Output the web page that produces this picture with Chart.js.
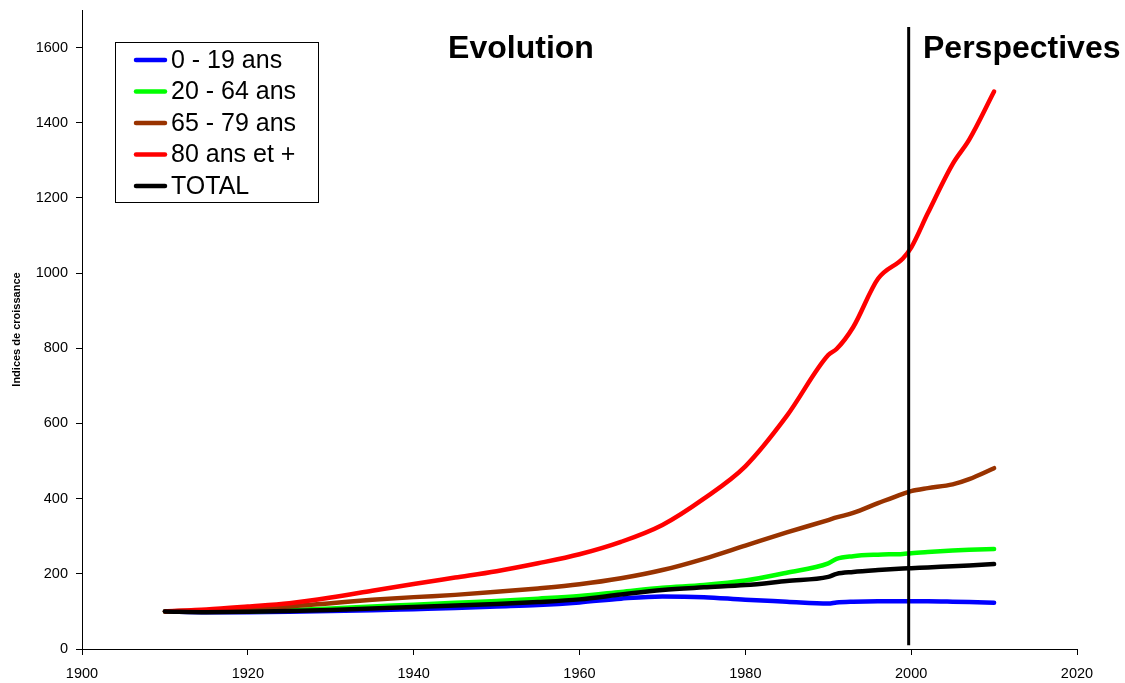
<!DOCTYPE html>
<html>
<head>
<meta charset="utf-8">
<script src="https://cdn.jsdelivr.net/npm/chart.js@4.4.1/dist/chart.umd.min.js"></script>
<style>
    html, body { margin: 0; padding: 0; background: #fff; }
    #wrap { width: 1125px; height: 683px; position: relative; }
</style>
</head>
<body>
<div id="wrap"><canvas id="chart"></canvas></div>
<script>
// Data
const years = [1910, 1915, 1920, 1925, 1930, 1935, 1940, 1945, 1950, 1955, 1960, 1965, 1970, 1975,
    1980, 1985, 1990, 1991, 1993, 1996, 1999, 2000, 2002, 2005, 2007, 2010];

const age0to19 = [100, 98, 98, 99, 101, 103, 106, 109, 113, 117, 124, 134, 140, 138,
    131, 126, 121, 124, 126, 127, 127, 127, 127, 126, 125, 123];
const age20to64 = [100, 99, 100, 103, 108, 113, 118, 123, 128, 134, 141, 152, 163, 170,
    182, 203, 228, 240, 247, 251, 253, 255, 258, 262, 264, 266];
const age65to79 = [100, 103, 107, 113, 122, 131, 138, 144, 152, 161, 172, 188, 210, 240,
    275, 310, 343, 350, 362, 388, 413, 420, 428, 438, 452, 481];
const age80plus = [100, 105, 113, 122, 137, 155, 173, 190, 207, 228, 252, 285, 330, 400,
    486, 620, 782, 798, 856, 985, 1039, 1068, 1159, 1290, 1355, 1483];
const total = [100, 98, 99, 101, 104, 108, 112, 116, 120, 125, 132, 145, 157, 164,
    170, 181, 192, 200, 205, 210, 214, 215, 217, 220, 222, 226];

const seriesLabels = ['0 - 19 ans', '20 - 64 ans', '65 - 79 ans', '80 ans et +', 'TOTAL'];
const seriesColors = ['#0000ff', '#00ff00', '#993300', '#ff0000', '#000000'];
const seriesValues = [age0to19, age20to64, age65to79, age80plus, total];

const xTicks = [1900, 1920, 1940, 1960, 1980, 2000, 2020];
const yTicks = [0, 200, 400, 600, 800, 1000, 1200, 1400, 1600];

// Divider between history and projection
const dividerYear = 1999.7;
const dividerRange = [10, 1655];

function toPoints(values) {
    return values.map((v, i) => ({ x: years[i], y: v }));
}

const datasets = seriesValues.map((values, i) => ({
    label: seriesLabels[i],
    data: toPoints(values),
    borderColor: seriesColors[i],
    backgroundColor: seriesColors[i],
    borderWidth: 4.5,
    borderCapStyle: 'round',
    borderJoinStyle: 'round',
    pointRadius: 0,
    cubicInterpolationMode: 'monotone',
    order: 6 - i
}));

datasets.push({
    label: 'divider',
    data: dividerRange.map(v => ({ x: dividerYear, y: v })),
    borderColor: '#000000',
    borderWidth: 3,
    pointRadius: 0,
    order: 0
});

const tickFont = { family: '"Liberation Sans", Arial, sans-serif', size: 14.5 };

// Section titles and boxed legend drawn on the canvas
const overlayPlugin = {
    id: 'overlay',
    afterDraw(chart) {
        const ctx = chart.ctx;
        ctx.save();
        ctx.fillStyle = '#000';
        ctx.font = 'bold 32px "Liberation Sans", Arial, sans-serif';
        ctx.textBaseline = 'middle';
        ctx.textAlign = 'center';
        ctx.fillText('Evolution', 521, 49);
        ctx.textAlign = 'left';
        ctx.fillText('Perspectives', 923, 49);

        // legend
        const box = { x: 115, y: 42, w: 203, h: 160 };
        ctx.fillStyle = '#fff';
        ctx.fillRect(box.x, box.y, box.w, box.h);
        ctx.strokeStyle = '#000';
        ctx.lineWidth = 1;
        ctx.strokeRect(box.x + 0.5, box.y + 0.5, box.w, box.h);

        ctx.font = '25px "Liberation Sans", Arial, sans-serif';
        ctx.textAlign = 'left';
        ctx.textBaseline = 'middle';
        seriesLabels.forEach((label, i) => {
            const cy = box.y + 18 + i * 31.5;
            ctx.strokeStyle = seriesColors[i];
            ctx.lineWidth = 4.5;
            ctx.lineCap = 'round';
            ctx.beginPath();
            ctx.moveTo(136, cy);
            ctx.lineTo(165, cy);
            ctx.stroke();
            ctx.fillStyle = '#000';
            ctx.fillText(label, 171, cy + 1);
        });
        ctx.restore();
    }
};

new Chart(document.getElementById('chart'), {
    type: 'line',
    data: { datasets: datasets },
    plugins: [overlayPlugin],
    options: {
        responsive: true,
        maintainAspectRatio: false,
        animation: false,
        layout: { padding: { top: 10, right: 48, left: 0, bottom: 0 } },
        plugins: {
            legend: { display: false },
            tooltip: { enabled: false }
        },
        scales: {
            x: {
                type: 'linear',
                min: 1900,
                max: 2020,
                afterBuildTicks: scale => { scale.ticks = xTicks.map(v => ({ value: v })); },
                afterFit: scale => {
                    scale.height = 34;
                    scale.paddingLeft = 0;
                    scale.paddingRight = 0;
                },
                grid: { drawOnChartArea: false, drawTicks: true, tickLength: 6, color: '#000' },
                border: { color: '#000', width: 1 },
                ticks: {
                    color: '#000',
                    padding: 10,
                    maxRotation: 0,
                    font: tickFont,
                    callback: v => String(v)
                }
            },
            y: {
                min: 0,
                max: 1700,
                afterBuildTicks: scale => { scale.ticks = yTicks.map(v => ({ value: v })); },
                afterFit: scale => {
                    scale.width = 82;
                    scale.paddingTop = 0;
                    scale.paddingBottom = 0;
                },
                grid: { drawOnChartArea: false, drawTicks: true, tickLength: 6, color: '#000' },
                border: { color: '#000', width: 1 },
                ticks: {
                    color: '#000',
                    padding: 8,
                    font: tickFont,
                    callback: v => String(v)
                },
                title: {
                    display: true,
                    text: 'Indices de croissance',
                    color: '#000',
                    padding: { top: 10, bottom: 0 },
                    font: { family: '"Liberation Sans", Arial, sans-serif', size: 11, weight: 'bold' }
                }
            }
        }
    }
});
</script>
</body>
</html>
